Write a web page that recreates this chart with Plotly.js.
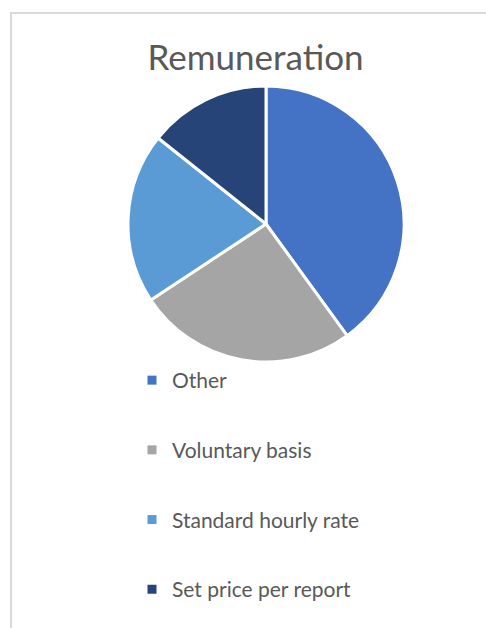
<!DOCTYPE html>
<html>
<head>
<meta charset="utf-8">
<script src="https://cdn.plot.ly/plotly-3.0.1.min.js"></script>
<style>
html,body{margin:0;padding:0;background:#fff;}
#chart{width:486px;height:628px;}
</style>
</head>
<body>
<div id="chart"></div>
<script>
const chartTitle = 'Remuneration';
const categories = ['Other', 'Voluntary basis', 'Standard hourly rate', 'Set price per report'];
const values = [28, 18, 14, 10];
const colors = ['#4472C4', '#A5A5A5', '#5B9BD5', '#264478'];

const W = 486, H = 628;
const cx = 266, cy = 224, R = 138;

const pie = {
  type: 'pie',
  labels: categories,
  values: values,
  sort: false,
  direction: 'clockwise',
  rotation: 0,
  textinfo: 'none',
  hoverinfo: 'label+percent',
  showlegend: false,
  marker: {colors: colors, line: {color: '#ffffff', width: 3}},
  domain: {x: [(cx - R) / W, (cx + R) / W], y: [1 - (cy + R) / H, 1 - (cy - R) / H]}
};

const legendTraces = categories.map((c, i) => ({
  type: 'scatter',
  mode: 'markers',
  x: [null], y: [null],
  name: c,
  legendgroup: 'g' + i,
  hoverinfo: 'skip',
  marker: {symbol: 'square', size: 9, color: colors[i], line: {width: 0}}
}));

const layout = {
  width: W, height: H,
  margin: {l: 0, r: 0, t: 0, b: 0},
  paper_bgcolor: '#ffffff',
  plot_bgcolor: 'rgba(0,0,0,0)',
  font: {family: 'Lato, "Open Sans", sans-serif', color: '#595959'},
  title: {
    text: chartTitle,
    font: {family: 'Lato, "Open Sans", sans-serif', size: 35, color: '#595959'},
    x: 255.5 / W, xanchor: 'center',
    y: 1 - 58 / H, yanchor: 'middle',
    xref: 'paper', yref: 'paper'
  },
  xaxis: {visible: false},
  yaxis: {visible: false},
  showlegend: true,
  legend: {
    x: 132 / W, xanchor: 'left',
    y: 1 - 360 / H, yanchor: 'top',
    bgcolor: 'rgba(0,0,0,0)',
    borderwidth: 0,
    tracegroupgap: 39.4,
    font: {family: 'Lato, "Open Sans", sans-serif', size: 21, color: '#595959'},
    itemclick: false, itemdoubleclick: false
  },
  shapes: [{
    type: 'rect', xref: 'paper', yref: 'paper', layer: 'below',
    x0: 11 / W, x1: 1.05, y0: -0.05, y1: 1 - 13 / H,
    line: {color: '#d9d9d9', width: 2}, fillcolor: 'rgba(0,0,0,0)'
  }]
};

Plotly.newPlot('chart', [pie].concat(legendTraces), layout, {displayModeBar: false, staticPlot: true});
</script>
</body>
</html>
